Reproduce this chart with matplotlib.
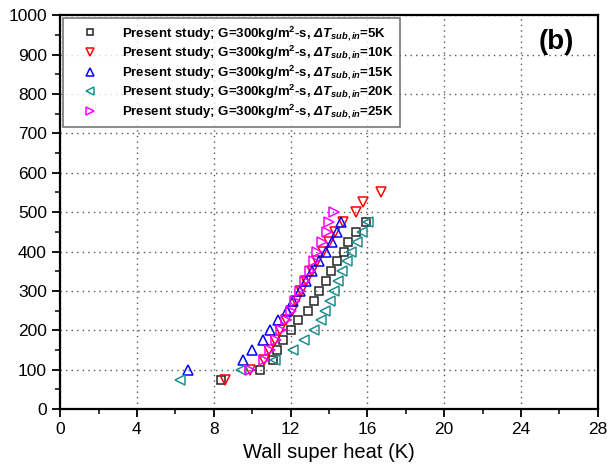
import matplotlib.pyplot as plt
from matplotlib.ticker import MultipleLocator

plt.rcParams['font.family'] = 'Liberation Sans'
plt.rcParams['mathtext.fontset'] = 'custom'
plt.rcParams['mathtext.rm'] = 'Liberation Sans:bold'
plt.rcParams['mathtext.it'] = 'Liberation Sans:italic:bold'
plt.rcParams['mathtext.bf'] = 'Liberation Sans:bold'
plt.rcParams['mathtext.sf'] = 'Liberation Sans:italic:bold'

# dT_sub,in = 5K
x5 = [8.4, 10.4, 11.1, 11.3, 11.6, 12.0, 12.4, 12.9, 13.2, 13.5, 13.85, 14.1, 14.4, 14.8, 15.0, 15.4, 15.95]
y5 = [75, 100, 125, 150, 175, 200, 225, 250, 275, 300, 325, 350, 375, 400, 425, 450, 475]
# 10K
x10 = [8.6, 9.9, 10.6, 10.9, 11.2, 11.45, 11.75, 12.05, 12.3, 12.55, 12.8, 13.1, 13.4, 13.7, 14.0, 14.3, 14.75, 15.4, 15.75, 16.7]
y10 = [75, 100, 125, 150, 175, 200, 225, 250, 275, 300, 325, 350, 375, 400, 425, 450, 475, 500, 525, 550]
# 15K
x15 = [6.65, 9.5, 10.0, 10.55, 10.95, 11.35, 11.8, 12.15, 12.5, 12.8, 13.1, 13.5, 13.85, 14.15, 14.4, 14.6]
y15 = [100, 125, 150, 175, 200, 225, 250, 275, 300, 325, 350, 375, 400, 425, 450, 475]
# 20K
x20 = [6.25, 9.4, 11.2, 12.15, 12.7, 13.2, 13.6, 13.8, 14.06, 14.27, 14.46, 14.7, 14.95, 15.15, 15.45, 15.7, 16.05]
y20 = [75, 100, 125, 150, 175, 200, 225, 250, 275, 300, 325, 350, 375, 400, 425, 450, 475]
# 25K
x25 = [9.9, 10.6, 10.95, 11.25, 11.5, 11.75, 12.0, 12.25, 12.5, 12.75, 13.0, 13.2, 13.4, 13.65, 13.9, 14.0, 14.25]
y25 = [100, 125, 150, 175, 200, 225, 250, 275, 300, 325, 350, 375, 400, 425, 450, 475, 500]

subcool = ['5', '10', '15', '20', '25']
series = [(x5, y5), (x10, y10), (x15, y15), (x20, y20), (x25, y25)]
markers = ['s', 'v', '^', '<', '>']
colors = ['#222222', '#ff0000', '#0000ff', '#1f8f8f', '#ff00ff']
msizes = [5.5, 7.5, 7.5, 7.5, 7.5]

fig = plt.figure(figsize=(6.07, 4.73), dpi=100)
ax = fig.add_axes([0.099, 0.135, 0.886, 0.833])

for (xs, ys), dt, m, c, ms in zip(series, subcool, markers, colors, msizes):
    lab = r'Present study; G=300kg/m$^{2}$-s, $\mathsf{Δ}\mathit{T}_{\mathit{sub,in}}$=' + dt + 'K'
    ax.plot(xs, ys, linestyle='none', marker=m, markersize=ms, markerfacecolor='none',
            markeredgecolor=c, markeredgewidth=1.1, label=lab)

ax.set_xlim(0, 28)
ax.set_ylim(0, 1000)
ax.xaxis.set_major_locator(MultipleLocator(4))
ax.xaxis.set_minor_locator(MultipleLocator(2))
ax.yaxis.set_major_locator(MultipleLocator(100))
ax.yaxis.set_minor_locator(MultipleLocator(50))
ax.tick_params(which='major', direction='out', length=6, width=1.3, labelsize=12.5)
ax.tick_params(which='minor', direction='out', length=3.5, width=1.1)
ax.grid(True, which='major', linestyle=(0, (1, 3)), color='#555555', linewidth=1)
for s in ax.spines.values():
    s.set_linewidth(1.6)
ax.set_xlabel('Wall super heat (K)', fontsize=14.5)

leg = ax.legend(loc='upper left', bbox_to_anchor=(0.0, 1.0), prop={'weight': 'bold', 'size': 9.5},
                frameon=True, fancybox=False, edgecolor='#555555', borderaxespad=0.2,
                handlelength=3.2, handletextpad=0.85, labelspacing=0.05, borderpad=0.45,
                markerscale=0.8)
leg.get_frame().set_linewidth(1.2)

ax.text(0.955, 0.965, '(b)', transform=ax.transAxes, ha='right', va='top', fontsize=20, fontweight='bold')

fig.savefig('out.png', dpi=100)
